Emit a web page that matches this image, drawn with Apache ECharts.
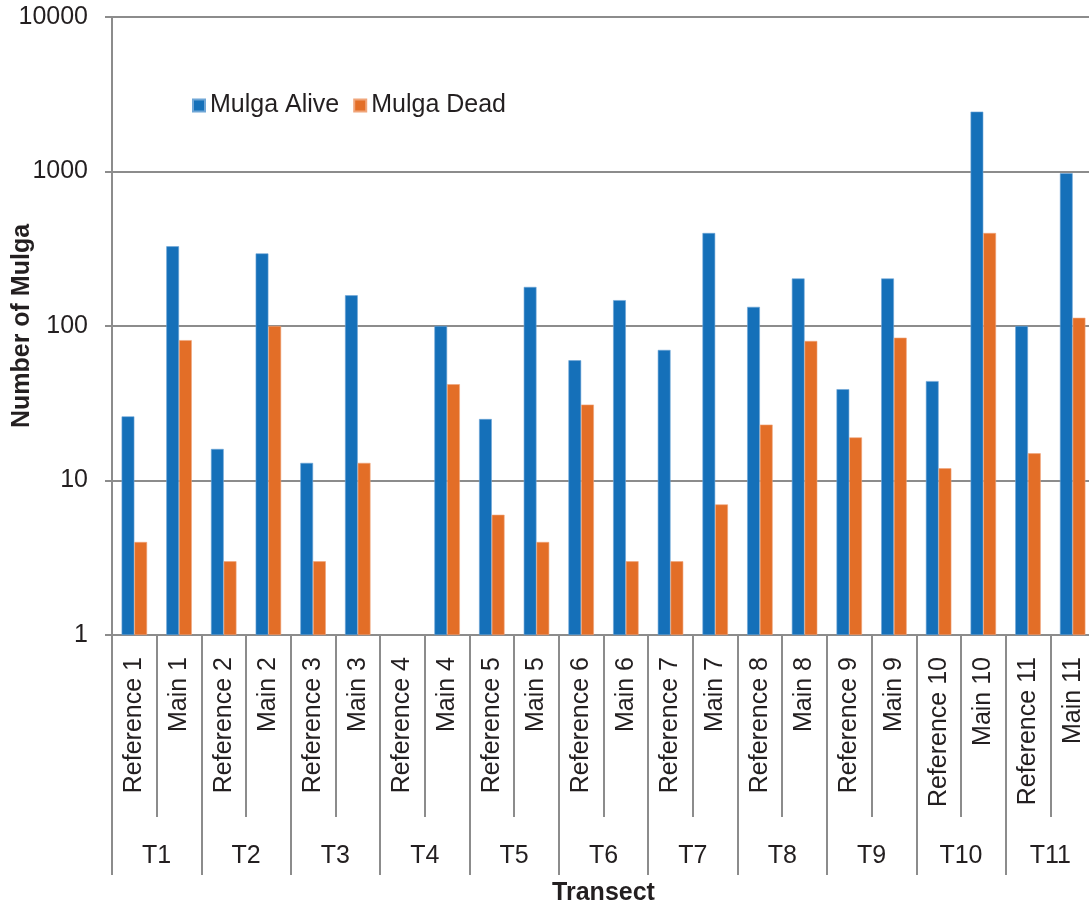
<!DOCTYPE html>
<html>
<head>
<meta charset="utf-8">
<script src="https://cdn.jsdelivr.net/npm/echarts@6/dist/echarts.min.js"></script>
<style>html,body{margin:0;padding:0;background:#fff;}#c{width:1089px;height:907px;}</style>
</head>
<body>
<div id="c"></div>
<script>
var categories = ['Reference 1','Main 1','Reference 2','Main 2','Reference 3','Main 3','Reference 4','Main 4','Reference 5','Main 5','Reference 6','Main 6','Reference 7','Main 7','Reference 8','Main 8','Reference 9','Main 9','Reference 10','Main 10','Reference 11','Main 11'];
var transects = ['T1','T2','T3','T4','T5','T6','T7','T8','T9','T10','T11'];
var mulgaAlive = [26, 328, 16, 295, 13, 158, null, 100, 25, 179, 60, 147, 70, 400, 133, 203, 39, 203, 44, 2440, 100, 975];
var mulgaDead = [4, 81, 3, 100, 3, 13, null, 42, 6, 4, 31, 3, 3, 7, 23, 80, 19, 84, 12, 400, 15, 113];
var yTicks = [1, 10, 100, 1000, 10000];

var gray = '#8c8c8c';
var txt = '#231f20';
var font = 'Arial, "Liberation Sans", sans-serif';
var fs = 25;

var chart = echarts.init(document.getElementById('c'), null, {renderer: 'canvas'});
chart.setOption({
  animation: false,
  backgroundColor: '#fff',
  textStyle: {fontFamily: font, color: txt},
  legend: {
    left: 187, top: 88,
    itemWidth: 12, itemHeight: 12, itemGap: 14,
    icon: 'rect',
    textStyle: {fontSize: fs, color: txt, fontFamily: font},
    data: ['Mulga Alive', 'Mulga Dead']
  },
  grid: {left: 112, top: 17, width: 983, bottom: 272, containLabel: false, outerBoundsMode: 'none'},
  xAxis: [{
    type: 'category',
    data: categories,
    position: 'bottom',
    axisLine: {show: true, lineStyle: {color: gray, width: 2}},
    axisTick: {show: true, interval: 0, length: 182, lineStyle: {color: gray, width: 2}},
    axisLabel: {interval: 0, rotate: 90, margin: 22, fontSize: fs, color: txt, fontFamily: font},
    splitLine: {show: false}
  }, {
    type: 'category',
    data: transects,
    position: 'bottom',
    axisLine: {show: false},
    axisTick: {show: true, interval: 0, length: 240, lineStyle: {color: gray, width: 2}},
    axisLabel: {interval: 0, margin: 209, fontSize: fs, color: txt, fontFamily: font},
    name: 'Transect',
    nameLocation: 'middle',
    nameMoveOverlap: false,
    nameGap: 246,
    nameTextStyle: {fontSize: 25, fontWeight: 'bold', color: txt, fontFamily: font, verticalAlign: 'top'}
  }],
  yAxis: {
    type: 'log',
    logBase: 10,
    min: yTicks[0],
    max: yTicks[yTicks.length - 1],
    name: 'Number of Mulga',
    nameLocation: 'middle',
    nameRotate: 90,
    nameMoveOverlap: false,
    nameGap: 90,
    nameTextStyle: {fontSize: 25, fontWeight: 'bold', color: txt, fontFamily: font, verticalAlign: 'middle'},
    axisLine: {show: true, lineStyle: {color: gray, width: 2}},
    axisTick: {show: true, length: 7, lineStyle: {color: gray, width: 2}},
    axisLabel: {margin: 24, fontSize: fs, color: txt, fontFamily: font, formatter: function (v) { return String(Math.round(v)); }},
    splitLine: {show: true, lineStyle: {color: gray, width: 2}}
  },
  series: [{
    name: 'Mulga Alive',
    type: 'bar',
    data: mulgaAlive,
    barGap: '0%',
    barCategoryGap: '43%',
    itemStyle: {color: '#1570b9', borderColor: '#6fa6d6', borderWidth: 0.6}
  }, {
    name: 'Mulga Dead',
    type: 'bar',
    data: mulgaDead,
    barGap: '0%',
    barCategoryGap: '43%',
    itemStyle: {color: '#e36e27', borderColor: '#f0a57a', borderWidth: 0.6}
  }]
});
</script>
</body>
</html>
